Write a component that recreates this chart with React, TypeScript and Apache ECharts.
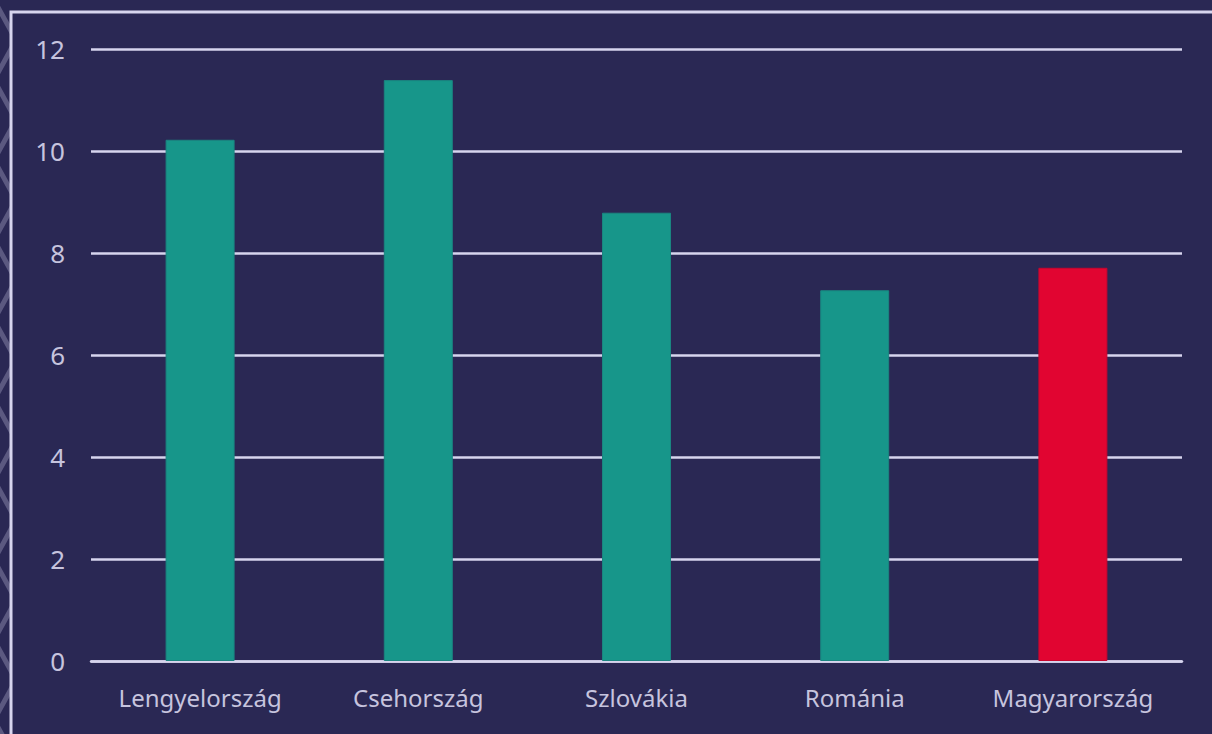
import React, { useEffect, useRef } from "react";
import * as echarts from "echarts";

const categories = ["Lengyelország", "Csehország", "Szlovákia", "Románia", "Magyarország"];
const values = [10.22, 11.39, 8.79, 7.27, 7.71];
const barColors = ["#17968a", "#17968a", "#17968a", "#17968a", "#e10531"];
const yTicks = { min: 0, max: 12, interval: 2 };

const BG = "#2a2854";
const LINE = "#d7d5ee";
const TEXT = "#c6c4de";

function chevrons() {
  const pts: number[][] = [];
  for (let y = -40; y <= 780; y += 40) {
    pts.push([(y / 40) % 2 === 0 ? -6 : 16, y]);
  }
  return pts;
}

export default function App() {
  const ref = useRef<HTMLDivElement>(null);
  useEffect(() => {
    if (!ref.current) return;
    const chart = echarts.init(ref.current, undefined, { renderer: "svg" });
    chart.setOption({
      animation: false,
      backgroundColor: BG,
      textStyle: { fontFamily: "'Noto Sans', sans-serif" },
      graphic: [
        {
          type: "polyline",
          shape: { points: chevrons() },
          style: { stroke: "#5b5980", lineWidth: 5, fill: null },
          z: -10,
        },
        {
          type: "rect",
          shape: { x: 11, y: 12, width: 1240, height: 760 },
          style: { fill: BG, stroke: LINE, lineWidth: 3 },
          z: -9,
        },
      ],
      grid: { left: 91, right: 30, top: 49, bottom: 73, containLabel: false },
      xAxis: {
        type: "category",
        data: categories,
        axisLine: { show: true, lineStyle: { color: LINE, width: 2.5 } },
        axisTick: { show: false },
        axisLabel: { color: TEXT, fontSize: 24, margin: 24, fontFamily: "'Noto Sans', sans-serif" },
      },
      yAxis: {
        type: "value",
        min: yTicks.min,
        max: yTicks.max,
        interval: yTicks.interval,
        axisLine: { show: false },
        axisTick: { show: false },
        axisLabel: { color: TEXT, fontSize: 26, margin: 26, fontFamily: "'Noto Sans', sans-serif" },
        splitLine: { show: true, lineStyle: { color: LINE, width: 2.5 } },
      },
      series: [
        {
          type: "bar",
          barWidth: 69,
          data: values.map((v, i) => ({
            value: v,
            itemStyle: { color: barColors[i], borderColor: i === 4 ? "#c8062e" : "#1a8580", borderWidth: 1 },
          })),
        },
      ],
    });
    return () => chart.dispose();
  }, []);
  return (
    <div
      ref={ref}
      style={{ position: "absolute", left: 0, top: 0, width: 1212, height: 734 }}
    />
  );
}
